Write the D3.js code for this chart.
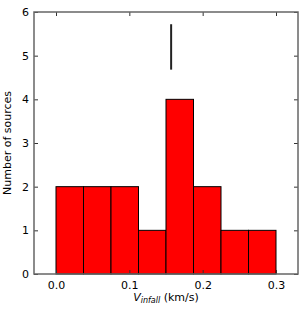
<!DOCTYPE html>
<html><head><meta charset="utf-8">
<script src="https://cdn.jsdelivr.net/npm/d3@7"></script>
<style>body{margin:0;background:#fff}svg{display:block}text{font-family:"DejaVu Sans",sans-serif}</style>
</head><body><svg id="c" width="306" height="312"></svg>
<script>
const binEdges = [0.0, 0.0375, 0.075, 0.1125, 0.15, 0.1875, 0.225, 0.2625, 0.3];
const counts = [2, 2, 2, 1, 4, 2, 1, 1];
const xTicks = [0.0, 0.1, 0.2, 0.3];
const yTicks = [0, 1, 2, 3, 4, 5, 6];
const markerX = [0.157];
const markerY = [4.68, 5.72];

const svg = d3.select("#c");
const L = 34, R = 298, T = 12, B = 274;
const x = d3.scaleLinear().domain([-0.03, 0.33]).range([L, R]);
const y = d3.scaleLinear().domain([0, 6]).range([B, T]);

const bars = counts.map((c, i) => ({x0: binEdges[i], x1: binEdges[i+1], c}));
svg.append("g").selectAll("rect").data(bars).join("rect")
  .attr("x", d => x(d.x0)).attr("y", d => y(d.c))
  .attr("width", d => x(d.x1) - x(d.x0)).attr("height", d => y(0) - y(d.c))
  .attr("fill", "#ff0000").attr("stroke", "#000").attr("stroke-width", 1);

svg.append("line").attr("x1", x(markerX[0])).attr("x2", x(markerX[0]))
  .attr("y1", y(markerY[0])).attr("y2", y(markerY[1]))
  .attr("stroke", "#222").attr("stroke-width", 2);

const tl = 4;
const fmt = d3.format(".1f");
svg.append("g").attr("transform", `translate(0,${B})`)
  .call(d3.axisBottom(x).tickValues(xTicks).tickFormat(fmt).tickSizeInner(-tl).tickSizeOuter(0).tickPadding(7))
  .call(g => g.select(".domain").remove());
svg.append("g").attr("transform", `translate(0,${T})`)
  .call(d3.axisTop(x).tickValues(xTicks).tickFormat("").tickSizeInner(-tl).tickSizeOuter(0))
  .call(g => g.select(".domain").remove());
svg.append("g").attr("transform", `translate(${L},0)`)
  .call(d3.axisLeft(y).tickValues(yTicks).tickFormat(d3.format("d")).tickSizeInner(-tl).tickSizeOuter(0).tickPadding(5))
  .call(g => g.select(".domain").remove());
svg.append("g").attr("transform", `translate(${R},0)`)
  .call(d3.axisRight(y).tickValues(yTicks).tickFormat("").tickSizeInner(-tl).tickSizeOuter(0))
  .call(g => g.select(".domain").remove());

svg.selectAll(".tick line").attr("stroke", "#333").attr("stroke-width", 1);
svg.selectAll(".tick text").attr("font-size", 11).attr("fill", "#000").attr("font-family", "DejaVu Sans");

svg.append("rect").attr("x", L).attr("y", T).attr("width", R - L).attr("height", B - T)
  .attr("fill", "none").attr("stroke", "#666").attr("stroke-width", 1.5);

svg.append("text").attr("transform", `translate(11,${(T+B)/2}) rotate(-90)`)
  .attr("text-anchor", "middle").attr("font-size", 11).text("Number of sources");

const xl = svg.append("text").attr("x", (L+R)/2).attr("y", 301).attr("text-anchor", "middle").attr("font-size", 11);
xl.append("tspan").attr("font-style", "italic").text("V");
xl.append("tspan").attr("font-style", "italic").attr("font-size", 8).attr("dy", 2).text("infall");
xl.append("tspan").attr("dy", -2).text(" (km/s)");
</script></body></html>
